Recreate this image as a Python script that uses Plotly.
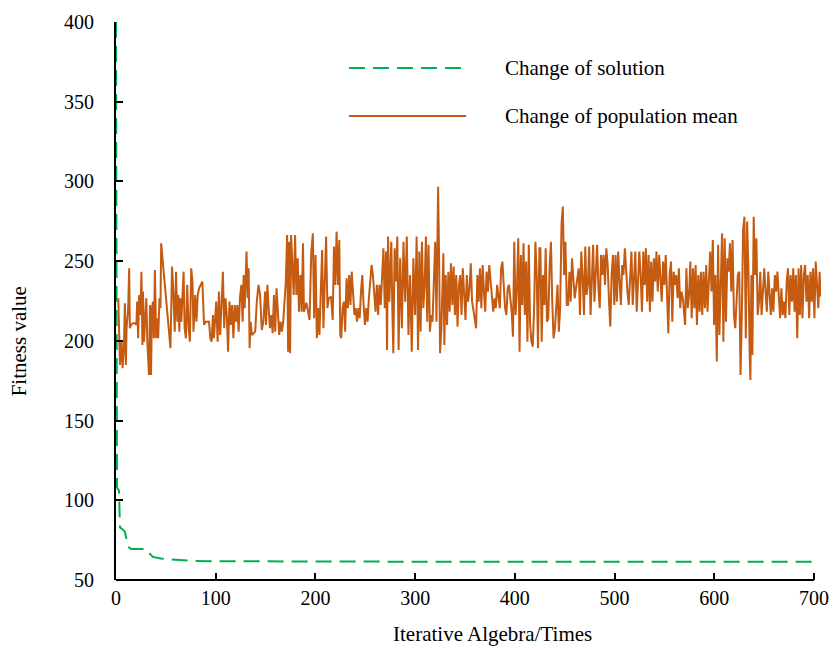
import plotly.graph_objects as go

# ---------------- data ----------------
solution_x = [0, 1, 3, 3.3, 4, 8, 9, 12, 15, 30, 33, 37, 45, 53, 77, 100, 133, 200, 300, 400, 500, 600, 700]
solution_y = [400, 108, 106, 100, 83, 81, 80, 71, 69.5, 69.5, 67, 64.5, 63.5, 63, 62, 61.8, 61.6, 61.6, 61.5, 61.5, 61.5, 61.4, 61.4]

seg1_x = [2.3,4.0,5.6,6.6,7.9,8.9,9.9,10.6,12.2,13.2,13.9,15,17,19,20.5,21.2,22.2,23.2,24.5,25.5,
          26.5,27.1,28.1,29.4,30.4,31.4,33.1,34.1,35.1,36.1,37.1,38.0,39.0,40.3,41.3,42.3,43.6,44.6,45.3,54.6,
          56.2,57.5,58.9,60.2,61.5,62.5,63.5,64.5,65.5,67.8,68.8,70.1,71.4,72.8,74.1,75.4,76.7,77.7,79.4,80.7,
          82,83.3,85,86.6,88.3,89.9,93.3,94.6,95.9,97.2,98.2,99.2,100.5,101.9,103.2,104.5,105.8,107.2,108.5,109.8,
          111.1,112.4,113.8,115.1,116.4,117.7,119.1,120.4,121.7,123,124.3,125.7,127,128,129,130,130.9,132,133,134,
          135,136.3]
seg1_y = [226.7,184.9,199.5,182.8,195.4,223.6,184.9,207.9,220.5,245.5,207.9,210,211,211,210,224.6,201.6,228.8,216.2,243.4,
          197.4,230.9,199.5,212,226.7,199.5,178.6,222.5,178.6,220.5,224.6,201.6,244.5,201.6,214.2,201.6,226.7,220.5,261.2,195.4,
          246.6,230.9,205.8,243.4,212,228.8,205.8,226.7,212,243.4,207.9,201.6,235.1,207.9,199.5,245.5,237,205.8,228.8,212,
          228.8,233,235.1,237.2,210,212,212,201.6,199.5,216.2,201.6,212,224.6,199.5,230.9,203.7,224.6,243.4,207.9,226.7,
          216.2,193.2,224.6,210,222.5,201.6,222.5,212,222.5,205.8,226.7,235.1,212,241.3,220.5,243.4,256,226.7,245.5,195.4,
          212,203.7]

seg2_x = [139.6,141.2,142.9,144.5,146.2,147.8,149.5,150.5,151.8,153.1,154.4,155.8,157.1,158.4,159.7,161.0,162.4,163.7,165.0,166.3,
          167.7,169.3,170.3,171.6,172.6,173.6,174.6,175.6,176.9,178.2,179.6,180.9,182.2,183.5,184.9,186.2,187.5,188.5,191,194.1,
          195.8,197.4,198.7,200.1,201.4,202.7,204.0,205.4,206.7,208.0,209.3,210.7,212.0,213.3,215.6,217.3,218.6,219.9,221.2,222.6,
          223.9,224.9,225.9,227.2,228.5,229.8,231.2,232.5,233.8,235.1,236.4,237.8,239.1,240.4,241.7,243.1,244.4,245.7,247.0,248.3,
          249.7,251.0,252.3,253.6,255.0,256.3,257.6,258.9,260.3,261.6,262.9,264.2,265.5,266.9,268.2,269.5,270.8,271.8,272.8,274.1,
          275.1,276.1,277.1,278.1,279.4,280.8,282.1]
seg2_y = [205.8,224.6,235.1,228.8,206.8,212,230.9,210,235.1,220.5,207.9,216.2,204.8,228.8,205.8,233,212,203.7,212,205.8,
          212,228.8,237.2,266.4,193.2,262.2,192.2,266.4,241.3,228.8,266.4,228.8,251.8,218.3,241.3,218.3,261.2,218.3,224,213.1,
          255,267.5,214.2,253.9,201.6,220.5,203.7,235.1,257,207.9,235.1,265.4,220.5,226.7,227.8,213.1,259.1,235.1,268.5,235.1,
          263.3,203.7,201.6,220.5,224.6,205.8,239.3,220.5,241.3,222.5,243.4,226.7,216.2,220.5,212,220.5,214.2,230.9,241.3,222.5,
          210,220.5,212,226.7,237.2,247.6,241.3,230.9,218.3,235.1,216.2,235.1,222.5,241.3,258.1,220.5,256,194.3,265.4,224.6,
          249.7,262.2,220.5,192.2,258.1,237.2,265.4]

seg3_x = [283.4,285.0,286.7,288.3,290.0,291.6,293.3,294.9,296.6,298.2,299.9,301.5,302.9,304.2,305.5,306.8,308.2,309.5,310.8,312.1,
          313.4,314.8,316.1,317.4,318.7,320.1,321.4,322.4,323.0,324.0,325.0,326.3,327.3,328.3,329.3,330.6,332.0,333.3,334.6,335.9,
          337.3,338.6,339.9,341.2,342.5,343.9,345.2,346.5,347.8,349.2,350.5,351.8,353.1,354.5,355.8,357.1,358.4,359.7,361.1,362.4,
          363.7,365.0,366.4,367.7,369.0,370.3,371.6,373.0,374.3,375.6,376.9,378.3,379.6,380.9,382.2,383.6,384.9,386.2,387.5,388.8,
          390.2,391.5,392.8,394.1,395.5,396.8,398.1,399.4,400.7,402.1,403.4,404.7,406.0,407.4,408.7,410.0,411.3,412.6,414.0,415.3,
          416.6,417.9,419.3,420.6,421.9,423.2,424.6]
seg3_y = [194.3,251.8,207.9,262.2,224.6,265.4,203.7,241.3,193.2,251.8,216.2,265.4,194.3,256,205.8,262.2,220.5,235.1,265.4,212,
          260.2,205.8,216.2,212,245.5,262.2,212,273.8,296.7,253.9,192.2,207.9,235.1,255,197.4,241.3,210,243.4,218.3,248.7,
          222.5,246.6,216.2,241.3,208.9,235.1,241.3,216.2,245.5,222.5,213.1,241.3,224.6,233,248.7,224.6,220.5,214.2,207.9,241.3,
          224.6,245.5,220.5,247.6,230.9,218.3,243.4,230.9,247.6,237.2,228.8,218.3,226.7,220.5,235.1,228.8,220.5,245.5,249.7,235.1,
          220.5,216.2,233,235.1,224.6,218.3,202.6,262.2,216.2,233,264.4,193.2,253.9,222.5,261.2,216.2,249.7,199.5,260.2,210,
          199.5,196.4,220.5,262.2,241.3,195.4,258.1]

seg4_x = [425.6,426.9,428.2,429.6,430.9,432.2,433.5,434.9,436.2,437.5,438.8,440.2,441.5,442.8,444.1,445.4,446.8,448.1,449.4,450.7,
          452.1,453.4,454.7,456.0,457.3,458.7,460.0,461.3,462.6,464.0,465.3,466.6,467.9,469.3,470.6,471.9,473.2,474.5,475.9,477.2,
          478.5,479.8,481.2,482.5,483.8,485.1,486.4,487.8,489.1,490.4,491.7,493.1,494.4,495.7,497.0,498.4,499.7,501.0,502.3,503.6,
          505.0,506.3,507.6,508.9,510.3,511.6,512.9,514.2,515.6,516.9,518.2,519.5,520.8,522.2,523.5,524.8,526.1,527.5,528.8,530.1,
          531.4,532.7,534.1,535.4,536.7,538.0,539.4,540.7,542.0,543.3,544.7,546.0,547.3,548.6,549.9,551.3,552.6,553.9,555.2,556.6,
          557.9,559.2,560.5,561.8,563.2,564.5,565.8,567.1,568.5]
seg4_y = [258.1,199.5,241.3,222.5,258.1,212,214.2,247.6,262.2,224.6,201.6,207.9,220.5,235.1,205.8,220.5,273.8,284.2,241.3,262.2,
          222.5,222.5,243.4,224.6,251.8,235.1,226.7,233,241.3,245.5,216.2,256,241.3,216.2,259.1,228.8,235.1,259.1,216.2,241.3,
          260.2,224.6,245.5,260.2,233,220.5,253.9,241.3,253.9,235.1,258.1,247.6,224.6,208.9,241.3,253.9,222.5,253.9,224.6,256,
          237.2,222.5,247.6,241.3,258.1,241.3,230.9,222.5,245.5,256,222.5,241.3,256,218.3,241.3,256,241.3,218.3,256,235.1,
          258.1,224.6,253.9,218.3,249.7,224.6,251.8,237.2,256,230.9,253.9,241.3,224.6,249.7,235.1,253.9,230.9,204.8,241.3,249.7,
          212,243.4,235.1,241.3,226.7,245.5,220.5,230.9,226.7]

seg5_x = [570.7,572.0,573.4,574.7,576.0,577.3,578.7,580.0,581.3,582.6,584.0,585.3,586.6,587.9,589.2,590.6,591.9,593.2,594.5,595.9,
          597.2,598.5,599.8,601.1,602.5,603.8,605.1,606.4,607.8,609.1,610.4,611.7,613.1,614.4,615.7,617.0,618.3,619.7,621.0,622.3,
          623.6,625.0,626.3,627.6,628.9,630.2,631.6,632.9,634.2,635.5,636.2,637.2,638.2,639.5,640.8,642.2,643.5,644.8,646.1,647.4,
          648.8,650.1,651.4,652.7,654.1,655.4,656.7,658.0,659.3,660.7,662.0,663.3,664.6,666.0,667.3,668.6,669.9,671.3,672.6,673.9,
          675.2,676.5,677.9,679.2,680.5,681.8,683.2,684.5,685.8,687.1,688.4,689.8,691.1,692.4,693.7,695.1,696.4,697.7,699.0,700.4,
          701.7,703.0,704.3,705.6,706.6]
seg5_y = [210,245.5,220.5,228.8,249.7,214.2,245.5,220.5,247.6,210,241.3,218.3,243.4,216.2,243.4,220.5,247.6,218.3,241.3,256,
          230.9,263.3,210,241.3,187,260.2,203.7,241.3,267.5,199.5,264.4,212,251.8,243.4,261.2,230.9,263.3,216.2,207.9,224.6,
          241.3,243.4,178.6,216.2,269.6,277.9,201.6,274.8,245.5,191.2,175.5,241.3,191.2,277.9,241.3,264.4,216.2,224.6,243.4,216.2,
          233,245.5,230.9,218.3,243.4,226.7,216.2,233,218.3,241.3,230.9,243.4,224.6,214.2,233,216.2,224.6,214.2,237.2,245.5,
          216.2,241.3,224.6,245.5,218.3,241.3,201.6,245.5,216.2,247.6,214.2,241.3,247.6,224.6,241.3,214.2,243.4,224.6,245.5,214.2,
          249.7,235.1,220.5,243.4,227.8]

population_x = seg1_x + seg2_x + seg3_x + seg4_x + seg5_x
population_y = seg1_y + seg2_y + seg3_y + seg4_y + seg5_y

x_ticks = [0, 100, 200, 300, 400, 500, 600, 700]
y_ticks = [50, 100, 150, 200, 250, 300, 350, 400]

series_names = ["Change of solution", "Change of population mean"]
x_title = "Iterative Algebra/Times"
y_title = "Fitness value"

# ---------------- styles ----------------
GREEN = "#00B050"
ORANGE = "#C55A11"
FONT = "Liberation Serif"

fig = go.Figure()
fig.add_trace(go.Scatter(x=population_x, y=population_y, mode="lines",
                         line=dict(color=ORANGE, width=2), showlegend=False))
fig.add_trace(go.Scatter(x=solution_x, y=solution_y, mode="lines",
                         line=dict(color=GREEN, width=2, dash="16px,8px"), showlegend=False))

# x axis line only up to the last tick
fig.add_shape(type="line", xref="x", yref="paper", x0=x_ticks[0], x1=x_ticks[-1], y0=0, y1=0,
              line=dict(color="black", width=2), layer="above")

# manual legend
leg_rows = [(0.9176, GREEN, "16px,8px", series_names[0]), (0.8315, ORANGE, "solid", series_names[1])]
for yy, col, dash, name in leg_rows:
    fig.add_shape(type="line", xref="paper", yref="paper", x0=0.3305, x1=0.4965, y0=yy, y1=yy,
                  line=dict(color=col, width=2, dash=dash))
    fig.add_annotation(xref="paper", yref="paper", x=0.5484, y=yy, text=name, showarrow=False,
                       xanchor="left", yanchor="middle", font=dict(family=FONT, size=21, color="black"))

fig.add_annotation(xref="paper", yref="paper", x=0.534, y=-0.0968, text=x_title, showarrow=False,
                   xanchor="center", yanchor="middle", font=dict(family=FONT, size=21, color="black"))
fig.add_annotation(xref="paper", yref="paper", x=-0.1374, y=0.428, text=y_title, showarrow=False,
                   textangle=-90, xanchor="center", yanchor="middle",
                   font=dict(family=FONT, size=21, color="black"))

fig.update_layout(
    width=838, height=650,
    margin=dict(l=116, r=9, t=22, b=70),
    paper_bgcolor="white", plot_bgcolor="white",
    font=dict(family=FONT, size=20, color="black"),
    showlegend=False,
    xaxis=dict(range=[0, 707], tickvals=x_ticks, ticks="inside", ticklen=7, tickwidth=2,
               tickcolor="black", showline=False, showgrid=False, zeroline=False,
               tickfont=dict(family=FONT, size=20, color="black"), ticklabelstandoff=4),
    yaxis=dict(range=[50, 400], tickvals=y_ticks, ticks="inside", ticklen=7, tickwidth=2,
               tickcolor="black", showline=True, linecolor="black", linewidth=2,
               showgrid=False, zeroline=False,
               tickfont=dict(family=FONT, size=20, color="black"), ticklabelstandoff=16),
)

fig.write_html("out.html")
